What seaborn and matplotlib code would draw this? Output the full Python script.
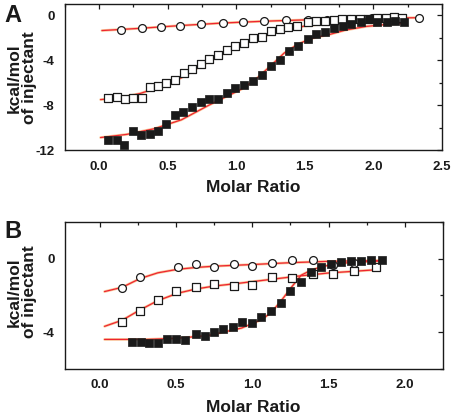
#!/usr/bin/env python3
"""Two ITC binding isotherms (panels A and B) with their fitted curves."""

import matplotlib
matplotlib.use("Agg")
import matplotlib.pyplot as plt
from matplotlib.ticker import FormatStrFormatter, MultipleLocator, NullFormatter
import pandas as pd
import seaborn as sns

# ---- panel A ---------------------------------------------------------------
a_circ_x = [0.16, 0.31, 0.45, 0.59, 0.74, 0.90, 1.05, 1.20, 1.36, 1.52, 1.66, 1.83, 1.99, 2.16, 2.33]
a_circ_y = [-1.29, -1.08, -1.00, -0.94, -0.76, -0.64, -0.61, -0.50, -0.41, -0.41, -0.41, -0.32, -0.25, -0.15, -0.20]

a_open_x = [0.066, 0.127, 0.188, 0.249, 0.31, 0.37, 0.43, 0.49, 0.55, 0.62, 0.68, 0.74, 0.80, 0.865,
            0.93, 0.994, 1.06, 1.12, 1.186, 1.255, 1.316, 1.38, 1.445, 1.52, 1.58, 1.645, 1.71, 1.77,
            1.84, 1.90, 1.96, 2.03, 2.09, 2.15, 2.21]
a_open_y = [-7.39, -7.27, -7.42, -7.33, -7.33, -6.36, -6.28, -5.98, -5.78, -5.16, -4.81, -4.37, -3.87, -3.49,
            -3.11, -2.76, -2.46, -2.02, -1.88, -1.35, -1.23, -1.06, -0.91, -0.55, -0.47, -0.47, -0.41, -0.35,
            -0.35, -0.32, -0.29, -0.24, -0.24, -0.18, -0.26]

a_fill_x = [0.061, 0.127, 0.183, 0.244, 0.305, 0.368, 0.426, 0.488, 0.55, 0.61, 0.675, 0.74, 0.80, 0.865,
            0.93, 0.994, 1.06, 1.12, 1.19, 1.255, 1.316, 1.384, 1.45, 1.52, 1.584, 1.65, 1.71, 1.78,
            1.84, 1.91, 1.97, 2.03, 2.10, 2.16, 2.22]
a_fill_y = [-11.12, -11.06, -11.50, -10.30, -10.68, -10.53, -10.33, -9.71, -8.86, -8.57, -8.18, -7.75, -7.45, -7.45,
            -6.92, -6.51, -6.22, -5.84, -5.34, -4.52, -3.93, -3.14, -2.70, -2.08, -1.64, -1.52, -1.08, -0.94,
            -0.76, -0.61, -0.35, -0.55, -0.55, -0.50, -0.55]

a_circ_fit_x = [0.02, 0.3, 0.6, 0.9, 1.2, 1.5, 1.8, 2.1, 2.36]
a_circ_fit_y = [-1.35, -1.15, -0.90, -0.68, -0.52, -0.40, -0.31, -0.24, -0.20]
a_open_fit_x = [0.01, 0.15, 0.3, 0.45, 0.6, 0.75, 0.9, 1.05, 1.2, 1.35, 1.5, 1.68, 1.9, 2.22]
a_open_fit_y = [-7.50, -7.35, -6.95, -6.35, -5.55, -4.45, -3.45, -2.55, -1.85, -1.30, -0.95, -0.70, -0.50, -0.35]
a_fill_fit_x = [0.01, 0.2, 0.4, 0.6, 0.8, 0.95, 1.05, 1.15, 1.25, 1.35, 1.45, 1.55, 1.68, 1.8, 1.95, 2.1, 2.23]
a_fill_fit_y = [-10.88, -10.60, -10.10, -9.30, -8.00, -7.10, -6.50, -5.60, -4.50, -3.35, -2.55, -2.05, -1.70,
                -1.30, -0.98, -0.80, -0.70]

# ---- panel B ---------------------------------------------------------------
b_circ_x = [0.145, 0.264, 0.51, 0.63, 0.75, 0.88, 1.00, 1.13, 1.26, 1.40, 1.53, 1.67]
b_circ_y = [-1.58, -1.02, -0.48, -0.27, -0.45, -0.31, -0.40, -0.22, -0.05, -0.05, -0.36, -0.24]

b_open_x = [0.145, 0.264, 0.38, 0.50, 0.63, 0.75, 0.88, 1.00, 1.13, 1.26, 1.40, 1.53, 1.67, 1.81]
b_open_y = [-3.44, -2.87, -2.24, -1.74, -1.52, -1.38, -1.49, -1.44, -1.02, -1.06, -0.86, -0.84, -0.66, -0.45]

b_fill_x = [0.21, 0.27, 0.325, 0.38, 0.44, 0.50, 0.56, 0.63, 0.69, 0.75, 0.81, 0.87, 0.935, 0.995,
            1.06, 1.125, 1.19, 1.25, 1.32, 1.385, 1.45, 1.515, 1.58, 1.65, 1.71, 1.78, 1.85]
b_fill_y = [-4.54, -4.54, -4.57, -4.61, -4.39, -4.36, -4.43, -4.12, -4.21, -3.96, -3.80, -3.71, -3.46, -3.50,
            -3.17, -2.87, -2.42, -1.74, -1.26, -0.72, -0.45, -0.27, -0.18, -0.13, -0.13, -0.05, -0.10]

b_circ_fit_x = [0.03, 0.145, 0.264, 0.38, 0.51, 0.63, 0.75, 1.0, 1.25, 1.49, 1.68, 1.85]
b_circ_fit_y = [-1.79, -1.56, -1.08, -0.77, -0.58, -0.48, -0.41, -0.32, -0.22, -0.15, -0.12, -0.10]
b_open_fit_x = [0.03, 0.145, 0.26, 0.38, 0.51, 0.63, 0.75, 0.9, 1.1, 1.3, 1.5, 1.82]
b_open_fit_y = [-3.68, -3.35, -2.80, -2.28, -1.88, -1.65, -1.49, -1.35, -1.15, -0.95, -0.78, -0.60]
b_fill_fit_x = [0.03, 0.3, 0.5, 0.71, 0.93, 1.06, 1.125, 1.19, 1.26, 1.32, 1.385, 1.45, 1.55, 1.7, 1.85]
b_fill_fit_y = [-4.39, -4.39, -4.33, -4.18, -3.77, -3.32, -2.92, -2.28, -1.52, -0.90, -0.63, -0.45, -0.27,
                -0.18, -0.13]

PANELS = [
    {
        "label": "A", "rect": [0.142, 0.640, 0.825, 0.350],
        "xlim": (-0.25, 2.5), "ylim": (-12, 1),
        "circ": (a_circ_x, a_circ_y), "open": (a_open_x, a_open_y), "fill": (a_fill_x, a_fill_y),
        "fits": [(a_circ_fit_x, a_circ_fit_y), (a_open_fit_x, a_open_fit_y), (a_fill_fit_x, a_fill_fit_y)],
        "xlabel_y": 188, "ylabel_y": 78, "letter_y": 15,
    },
    {
        "label": "B", "rect": [0.142, 0.115, 0.827, 0.353],
        "xlim": (-0.23, 2.25), "ylim": (-6, 2),
        "circ": (b_circ_x, b_circ_y), "open": (b_open_x, b_open_y), "fill": (b_fill_x, b_fill_y),
        "fits": [(b_circ_fit_x, b_circ_fit_y), (b_open_fit_x, b_open_fit_y), (b_fill_fit_x, b_fill_fit_y)],
        "xlabel_y": 408, "ylabel_y": 292, "letter_y": 231,
    },
]

W, H = 457, 417
INK = "#1a1a1a"


def set_locators(axis):
    axis.set_major_locator(MultipleLocator(0.5 if axis.axis_name == "x" else 4))
    axis.set_minor_locator(MultipleLocator(0.25 if axis.axis_name == "x" else 2))


def draw_panel(fig, panel):
    ax = fig.add_axes(panel["rect"])

    for fx, fy in panel["fits"]:
        fit = pd.DataFrame({"x": fx, "y": fy})
        sns.lineplot(data=fit, x="x", y="y", ax=ax, sort=False, estimator=None,
                     color="#f9c89a", lw=1.9, zorder=2)
        sns.lineplot(data=fit, x="x", y="y", ax=ax, sort=False, estimator=None,
                     color="#ee2430", lw=0.9, zorder=3)

    cx, cy = panel["circ"]
    sns.scatterplot(x=cx, y=cy, ax=ax, marker="o", s=32, facecolor="white",
                    edgecolor=INK, linewidth=0.9, zorder=4)
    ox, oy = panel["open"]
    sns.scatterplot(x=ox, y=oy, ax=ax, marker="s", s=28, facecolor="white",
                    edgecolor=INK, linewidth=0.9, zorder=4)
    sx, sy = panel["fill"]
    sns.scatterplot(x=sx, y=sy, ax=ax, marker="s", s=32, facecolor=INK,
                    edgecolor=INK, linewidth=0.5, zorder=5)

    ax.set_xlim(*panel["xlim"])
    ax.set_ylim(*panel["ylim"])
    set_locators(ax.xaxis)
    set_locators(ax.yaxis)
    ax.xaxis.set_major_formatter(FormatStrFormatter("%.1f"))
    ax.yaxis.set_major_formatter(FormatStrFormatter("%d"))

    ax.tick_params(which="both", direction="out", color=INK, width=0.9)
    ax.tick_params(which="major", length=3.5, labelsize=9.5, pad=4, labelcolor=INK)
    ax.tick_params(which="minor", length=2)
    for lab in ax.get_xticklabels() + ax.get_yticklabels():
        lab.set_fontweight("bold")

    # mirrored ticks pointing inward on the top and right frame
    top = ax.secondary_xaxis("top")
    right = ax.secondary_yaxis("right")
    set_locators(top.xaxis)
    set_locators(right.yaxis)
    for sec in (top, right):
        sec.tick_params(which="both", direction="in", color=INK, width=0.9)
        sec.tick_params(which="major", length=3.5)
        sec.tick_params(which="minor", length=2)
        sec.xaxis.set_major_formatter(NullFormatter())
        sec.yaxis.set_major_formatter(NullFormatter())
        for spine in sec.spines.values():
            spine.set_visible(False)

    for side in ["top", "right", "bottom", "left"]:
        ax.spines[side].set_visible(True)
        ax.spines[side].set_color(INK)
        ax.spines[side].set_linewidth(1.0)
    ax.set_xlabel("")
    ax.set_ylabel("")

    fig.text(253 / W, 1 - panel["xlabel_y"] / H, "Molar Ratio", ha="center", va="center",
             fontsize=12.5, fontweight="bold", color=INK)
    fig.text(22 / W, 1 - panel["ylabel_y"] / H, "kcal/mol\nof injectant", ha="center", va="center",
             rotation=90, fontsize=12.5, fontweight="bold", color=INK, linespacing=1.05,
             multialignment="center")
    fig.text(4 / W, 1 - panel["letter_y"] / H, panel["label"], ha="left", va="center",
             fontsize=17, fontweight="bold", color=INK)


def main():
    sns.set_style("white")
    plt.rcParams["font.family"] = ["Liberation Sans", "DejaVu Sans"]
    plt.rcParams["axes.unicode_minus"] = False

    fig = plt.figure(figsize=(W / 100, H / 100), dpi=100)
    for panel in PANELS:
        draw_panel(fig, panel)
    fig.savefig("out.png", dpi=100)
    plt.close(fig)


if __name__ == "__main__":
    main()
